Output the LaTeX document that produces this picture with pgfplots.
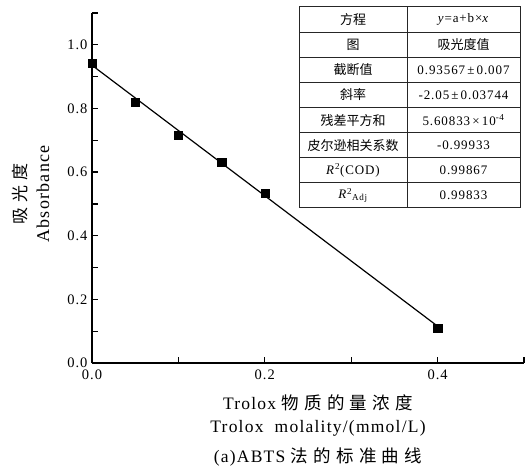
\documentclass[border=0pt]{standalone}
\usepackage{pgfplots}
\pgfplotsset{compat=1.18}
\usepackage{fontspec}
\setmainfont{Liberation Serif}
\newfontfamily\wide[LetterSpace=7]{Liberation Serif}
\newfontfamily\cjk[LetterSpace=30]{Noto Sans CJK SC}
\newfontfamily\cjkt{Noto Sans CJK SC}
\begin{document}
\begin{tikzpicture}
\begin{axis}[
  scale only axis, width=432pt, height=350pt,
  xmin=0, xmax=0.5, ymin=0, ymax=1.1,
  axis lines*=left,
  xtick={0,0.2,0.4}, minor xtick={0.1,0.3,0.5},
  ytick={0,0.2,0.4,0.6,0.8,1.0}, minor ytick={0.1,0.3,0.5,0.7,0.9,1.1},
  tick align=inside, major tick length=6pt, minor tick length=6pt,
  every tick/.style={line width=1.2pt, black},
  every minor tick/.style={line width=1.2pt, black},
  axis line style={line width=1.6pt},
  xticklabel style={yshift=-3pt, /pgf/number format/fixed, /pgf/number format/precision=1, /pgf/number format/fixed zerofill},
  yticklabel style={xshift=-1pt, /pgf/number format/fixed, /pgf/number format/precision=1, /pgf/number format/fixed zerofill},
  /pgf/number format/assume math mode=true,
  tick label style={font=\fontsize{14.5}{14.5}\selectfont\wide},
  clip=false,
]
\addplot[black, line width=1.2pt] coordinates {(0,0.93567) (0.4,0.11567)};
\addplot[only marks, mark=square*, mark size=4.1pt, black] coordinates {
  (0,0.942) (0.05,0.819) (0.1,0.716) (0.15,0.631) (0.2,0.534) (0.4,0.11)};
\end{axis}
\begin{scope}[x=1pt,y=1pt]
\draw[line width=1pt, black!85] (207,155) rectangle (428,356);
\draw[line width=0.8pt, black!85] (315,155) -- (315,356);
\foreach \i in {1,...,7} {\draw[line width=0.8pt, black!85] (207,{356-25.125*\i}) -- (428,{356-25.125*\i});}
\begin{scope}[every node/.style={font=\fontsize{13}{13}\selectfont\wide}]
\node at (261,{356-25.125*0.5}) {\cjkt 方程};
\node at (371.5,{356-25.125*0.5}) {\textit{y}=a+b×\textit{x}};
\node at (261,{356-25.125*1.5}) {\cjkt 图};
\node at (371.5,{356-25.125*1.5}) {\cjkt 吸光度值};
\node at (261,{356-25.125*2.5}) {\cjkt 截断值};
\node at (371.5,{356-25.125*2.5}) {0.93567\,±\,0.007};
\node at (261,{356-25.125*3.5}) {\cjkt 斜率};
\node at (371.5,{356-25.125*3.5}) {-2.05\,±\,0.03744};
\node at (261,{356-25.125*4.5}) {\cjkt 残差平方和};
\node at (371.5,{356-25.125*4.5}) {5.60833\,×\,10\textsuperscript{-4}};
\node at (261,{356-25.125*5.5}) {\cjkt 皮尔逊相关系数};
\node at (371.5,{356-25.125*5.5}) {-0.99933};
\node at (261,{356-25.125*6.5}) {\textit{R}\textsuperscript{2}(COD)};
\node at (371.5,{356-25.125*6.5}) {0.99867};
\node at (261,{356-25.125*7.5}) {\textit{R}\textsuperscript{2}\textsubscript{Adj}};
\node at (371.5,{356-25.125*7.5}) {0.99833};
\end{scope}
\node[rotate=90] at (-72,169) {\fontsize{17}{17}\selectfont\cjk 吸光度};
\node[rotate=90] at (-49,169) {\fontsize{18}{18}\selectfont\wide Absorbance};
\node at (226,-40) {\fontsize{17.5}{17.5}\selectfont\wide Trolox {\cjk 物质的量浓度}};
\node at (226,-65) {\fontsize{17.5}{17.5}\selectfont\wide Trolox\ \ molality/(mmol/L)};
\node at (226,-94) {\fontsize{17.5}{17.5}\selectfont\wide (a)ABTS {\cjk 法的标准曲线}};
\pgfresetboundingbox
\useasboundingbox (-92,-106) rectangle (433,363);
\end{scope}
\end{tikzpicture}
\end{document}
